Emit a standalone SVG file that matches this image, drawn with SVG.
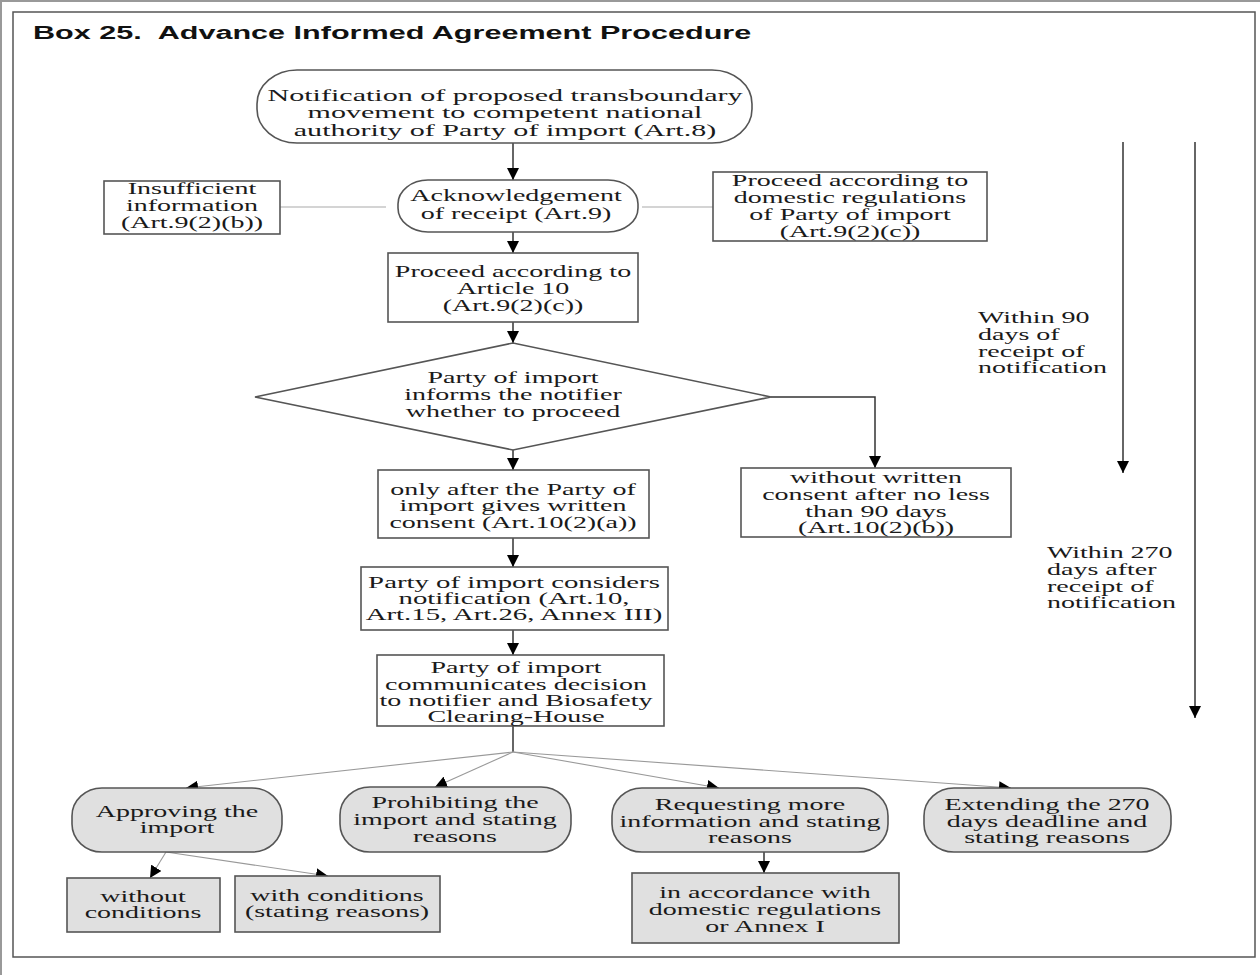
<svg xmlns="http://www.w3.org/2000/svg" width="1260" height="975" viewBox="0 0 1260 975">
<style>
.frame{fill:none;stroke:#555;stroke-width:1.5}
.box{fill:#fff;stroke:#555;stroke-width:1.6}
.gbox{fill:#e0e0e0;stroke:#555;stroke-width:1.6}
.t text{font-family:"Liberation Serif","Times New Roman",serif;font-size:16px;fill:#1a1a1a;text-anchor:middle}
.tl text{font-family:"Liberation Serif","Times New Roman",serif;font-size:16px;fill:#1a1a1a;text-anchor:start}
.title{font-family:"Liberation Sans",Arial,sans-serif;font-size:19px;font-weight:bold;fill:#111}
.flow{fill:none;stroke:#333;stroke-width:1.5}
.fan{fill:none;stroke:#999;stroke-width:1.1}
.lite{fill:none;stroke:#aaa;stroke-width:1.2}
.time{fill:none;stroke:#666;stroke-width:2}
</style>
<defs>
<marker id="ah" viewBox="0 0 10 10" refX="10" refY="5" markerWidth="12" markerHeight="12" markerUnits="userSpaceOnUse" orient="auto">
<path d="M0,0 L10,5 L0,10 z" fill="#000"/>
</marker>
</defs>
<rect width="1260" height="975" fill="#fff"/>
<line x1="0" y1="1" x2="1260" y2="1" stroke="#999" stroke-width="2"/>
<line x1="1" y1="0" x2="1" y2="975" stroke="#999" stroke-width="2"/>
<rect class="frame" x="13" y="12" width="1242" height="945"/>
<g transform="matrix(1.61 0 0 1 33 0)"><text class="title" x="0" y="39" xml:space="preserve">Box 25.  Advance Informed Agreement Procedure</text></g>

<g id="connectors">
<line class="lite" x1="280" y1="207" x2="386" y2="207"/>
<line class="lite" x1="642" y1="207" x2="713" y2="207"/>
<line class="flow" x1="513" y1="143" x2="513" y2="180" marker-end="url(#ah)"/>
<line class="flow" x1="513" y1="232" x2="513" y2="253" marker-end="url(#ah)"/>
<line class="flow" x1="513" y1="322" x2="513" y2="343" marker-end="url(#ah)"/>
<polyline class="flow" points="771,397 875,397 875,468" marker-end="url(#ah)"/>
<line class="flow" x1="513" y1="450" x2="513" y2="470" marker-end="url(#ah)"/>
<line class="flow" x1="513" y1="538" x2="513" y2="567" marker-end="url(#ah)"/>
<line class="flow" x1="513" y1="630" x2="513" y2="655" marker-end="url(#ah)"/>
<line class="flow" x1="513" y1="726" x2="513" y2="752"/>
<line class="fan" x1="513" y1="752" x2="186" y2="788" marker-end="url(#ah)"/>
<line class="fan" x1="513" y1="752" x2="435" y2="787" marker-end="url(#ah)"/>
<line class="fan" x1="513" y1="752" x2="719" y2="788" marker-end="url(#ah)"/>
<line class="fan" x1="513" y1="752" x2="1011" y2="788" marker-end="url(#ah)"/>
<line class="fan" x1="166" y1="852" x2="150" y2="878" marker-end="url(#ah)"/>
<line class="fan" x1="166" y1="852" x2="328" y2="876" marker-end="url(#ah)"/>
<line class="flow" x1="764" y1="852" x2="764" y2="873" marker-end="url(#ah)"/>
<line class="time" x1="1123" y1="142" x2="1123" y2="473" marker-end="url(#ah)"/>
<line class="time" x1="1195" y1="142" x2="1195" y2="718" marker-end="url(#ah)"/>
</g>

<g id="n-notification">
<rect class="box" x="257" y="70" width="495" height="73" rx="40" ry="34"/>
<g class="t" transform="matrix(1.88 0 0 1 505 0)">
<text x="0" y="101">Notification of proposed transboundary</text>
<text x="0" y="118">movement to competent national</text>
<text x="0" y="136">authority of Party of import (Art.8)</text>
</g>
</g>

<g id="n-insufficient">
<rect class="box" x="104" y="181" width="176" height="53"/>
<g class="t" transform="matrix(1.75 0 0 1 192 0)">
<text x="0" y="194">Insufficient</text>
<text x="0" y="211">information</text>
<text x="0" y="228">(Art.9(2)(b))</text>
</g>
</g>

<g id="n-ack">
<rect class="box" x="398" y="180" width="240" height="52" rx="30" ry="24"/>
<g class="t" transform="matrix(1.75 0 0 1 516 0)">
<text x="0" y="201">Acknowledgement</text>
<text x="0" y="219">of receipt (Art.9)</text>
</g>
</g>

<g id="n-domestic">
<rect class="box" x="713" y="172" width="274" height="69"/>
<g class="t" transform="matrix(1.75 0 0 1 850 0)">
<text x="0" y="186">Proceed according to</text>
<text x="0" y="203">domestic regulations</text>
<text x="0" y="220">of Party of import</text>
<text x="0" y="237">(Art.9(2)(c))</text>
</g>
</g>

<g id="n-art10">
<rect class="box" x="388" y="253" width="250" height="69"/>
<g class="t" transform="matrix(1.75 0 0 1 513 0)">
<text x="0" y="277">Proceed according to</text>
<text x="0" y="294">Article 10</text>
<text x="0" y="311">(Art.9(2)(c))</text>
</g>
</g>

<g id="n-decision">
<polygon class="box" points="255,397 513,343 771,397 513,450"/>
<g class="t" transform="matrix(1.75 0 0 1 513 0)">
<text x="0" y="383">Party of import</text>
<text x="0" y="400">informs the notifier</text>
<text x="0" y="417">whether to proceed</text>
</g>
</g>

<g id="n-without-consent">
<rect class="box" x="741" y="468" width="270" height="69"/>
<g class="t" transform="matrix(1.75 0 0 1 876 0)">
<text x="0" y="483">without written</text>
<text x="0" y="500">consent after no less</text>
<text x="0" y="517">than 90 days</text>
<text x="0" y="533">(Art.10(2)(b))</text>
</g>
</g>

<g id="n-only-after">
<rect class="box" x="378" y="470" width="271" height="68"/>
<g class="t" transform="matrix(1.75 0 0 1 513 0)">
<text x="0" y="495">only after the Party of</text>
<text x="0" y="511">import gives written</text>
<text x="0" y="528">consent (Art.10(2)(a))</text>
</g>
</g>

<g id="n-considers">
<rect class="box" x="361" y="567" width="307" height="63"/>
<g class="t" transform="matrix(1.8 0 0 1 514 0)">
<text x="0" y="588">Party of import considers</text>
<text x="0" y="604">notification (Art.10,</text>
<text x="0" y="620">Art.15, Art.26, Annex III)</text>
</g>
</g>

<g id="n-communicates">
<rect class="box" x="377" y="655" width="287" height="71"/>
<g class="t" transform="matrix(1.75 0 0 1 516 0)">
<text x="0" y="673">Party of import</text>
<text x="0" y="690">communicates decision</text>
<text x="0" y="706">to notifier and Biosafety</text>
<text x="0" y="722">Clearing-House</text>
</g>
</g>

<g id="n-approving">
<rect class="gbox" x="72" y="788" width="210" height="64" rx="30" ry="28"/>
<g class="t" transform="matrix(1.75 0 0 1 177 0)">
<text x="0" y="817">Approving the</text>
<text x="0" y="833">import</text>
</g>
</g>

<g id="n-prohibiting">
<rect class="gbox" x="340" y="787" width="231" height="65" rx="30" ry="28"/>
<g class="t" transform="matrix(1.75 0 0 1 455 0)">
<text x="0" y="808">Prohibiting the</text>
<text x="0" y="825">import and stating</text>
<text x="0" y="842">reasons</text>
</g>
</g>

<g id="n-requesting">
<rect class="gbox" x="612" y="788" width="276" height="64" rx="30" ry="28"/>
<g class="t" transform="matrix(1.75 0 0 1 750 0)">
<text x="0" y="810">Requesting more</text>
<text x="0" y="827">information and stating</text>
<text x="0" y="843">reasons</text>
</g>
</g>

<g id="n-extending">
<rect class="gbox" x="924" y="788" width="247" height="64" rx="30" ry="28"/>
<g class="t" transform="matrix(1.75 0 0 1 1047 0)">
<text x="0" y="810">Extending the 270</text>
<text x="0" y="827">days deadline and</text>
<text x="0" y="843">stating reasons</text>
</g>
</g>

<g id="n-without-conditions">
<rect class="gbox" x="67" y="878" width="153" height="54"/>
<g class="t" transform="matrix(1.75 0 0 1 143 0)">
<text x="0" y="902">without</text>
<text x="0" y="918">conditions</text>
</g>
</g>

<g id="n-with-conditions">
<rect class="gbox" x="235" y="876" width="205" height="56"/>
<g class="t" transform="matrix(1.75 0 0 1 337 0)">
<text x="0" y="901">with conditions</text>
<text x="0" y="917">(stating reasons)</text>
</g>
</g>

<g id="n-accordance">
<rect class="gbox" x="632" y="873" width="267" height="70"/>
<g class="t" transform="matrix(1.75 0 0 1 765 0)">
<text x="0" y="898">in accordance with</text>
<text x="0" y="915">domestic regulations</text>
<text x="0" y="932">or Annex I</text>
</g>
</g>

<g id="label-90">
<g class="tl" transform="matrix(1.75 0 0 1 978 0)">
<text x="0" y="323">Within 90</text>
<text x="0" y="340">days of</text>
<text x="0" y="357">receipt of</text>
<text x="0" y="373">notification</text>
</g>
</g>

<g id="label-270">
<g class="tl" transform="matrix(1.75 0 0 1 1047 0)">
<text x="0" y="558">Within 270</text>
<text x="0" y="575">days after</text>
<text x="0" y="592">receipt of</text>
<text x="0" y="608">notification</text>
</g>
</g>
</svg>
